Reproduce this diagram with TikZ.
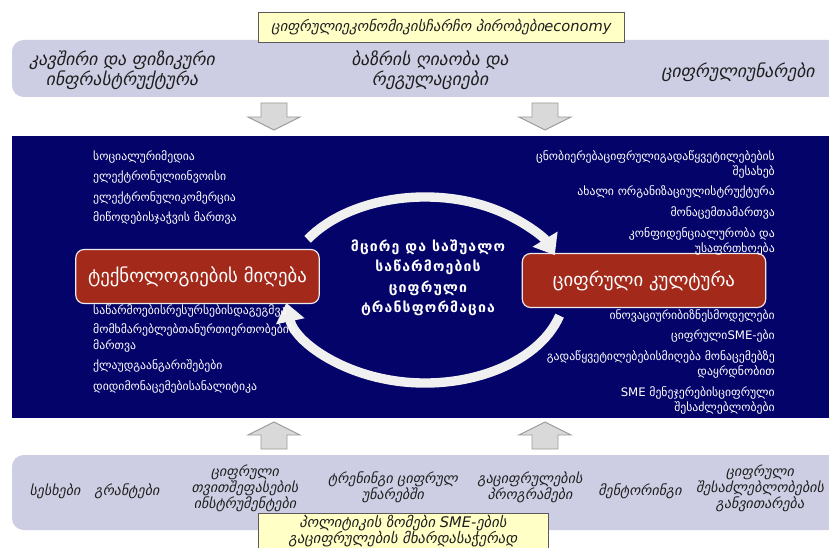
\documentclass[tikz,border=0pt]{standalone}
\usepackage{fontspec}
\setmainfont{DejaVu Sans}
\usepackage{tikz}
\usetikzlibrary{arrows.meta,positioning,calc}
\usepackage{xcolor}
\definecolor{navyfield}{HTML}{03036A}
\definecolor{bandlilac}{HTML}{CDCEE3}
\definecolor{bannercream}{HTML}{FFFFC6}
\definecolor{keyred}{HTML}{A3291B}
\definecolor{arrowgrey}{HTML}{D9D9D9}
\definecolor{arrowedge}{HTML}{9C9C9C}
\definecolor{inkdark}{HTML}{1E1E1E}

\begin{document}
\begin{tikzpicture}[
  x=0.03cm, y=0.03cm,
  >=Stealth,
  banner/.style={
    draw=black!65,
    fill=bannercream,
    line width=0.7pt,
    inner sep=1pt,
    align=center,
    text=inkdark,
    font=\itshape\fontsize{12.5}{14}\selectfont
  },
  bandtext/.style={
    align=center,
    text=inkdark,
    font=\itshape\fontsize{12}{13.5}\selectfont
  },
  listtext/.style={
    text=white,
    inner sep=0pt,
    font=\fontsize{10}{13}\selectfont
  },
  keybox/.style={
    fill=keyred,
    draw=white!85!gray,
    line width=1pt,
    rounded corners=7pt,
    minimum width=7.3cm,
    minimum height=1.62cm,
    text=white,
    font=\fontsize{16}{18}\selectfont
  },
  blockarrow/.style={
    fill=arrowgrey,
    draw=arrowedge,
    line width=0.8pt
  },
  cyclearrow/.style={
    line width=8pt,
    white!88!gray,
    -{Triangle[width=24pt,length=16pt]}
  }
]
  \clip (0,0) rectangle (829,547);
  \fill[white] (0,0) rectangle (829,547);

  % ---------------------------------------------------------------------------
  % BANDS AND FIELD
  % ---------------------------------------------------------------------------
  \fill[bandlilac, rounded corners=10pt] (12,450) rectangle (860,507);
  \fill[bandlilac, rounded corners=10pt] (12,17) rectangle (860,92);
  \fill[navyfield] (12,129) rectangle (829,411);

  % Block arrows
  \draw[blockarrow] (274,417) -- ++(-26,13) -- ++(13,0) -- ++(0,14) -- ++(26,0) -- ++(0,-14) -- ++(13,0) -- cycle;
  \draw[blockarrow] (545,417) -- ++(-26,13) -- ++(13,0) -- ++(0,14) -- ++(26,0) -- ++(0,-14) -- ++(13,0) -- cycle;
  \draw[blockarrow] (274,125) -- ++(-26,-13) -- ++(13,0) -- ++(0,-14) -- ++(26,0) -- ++(0,14) -- ++(13,0) -- cycle;
  \draw[blockarrow] (545,125) -- ++(-26,-13) -- ++(13,0) -- ++(0,-14) -- ++(26,0) -- ++(0,14) -- ++(13,0) -- cycle;

  % ---------------------------------------------------------------------------
  % TOP BAND
  % ---------------------------------------------------------------------------
  \node[banner, minimum width=11.0cm, minimum height=0.9cm] (frame) at (441.5,520)
    {ციფრულიეკონომიკისჩარჩო პირობებიeconomy};

  \node[bandtext, font=\itshape\fontsize{15}{17}\selectfont] (connect) at (122,477) {კავშირი და ფიზიკური\\ინფრასტრუქტურა};
  \node[bandtext, font=\itshape\fontsize{15}{17}\selectfont] (market) at (430,477) {ბაზრის ღიაობა და\\რეგულაციები};
  \node[bandtext, font=\itshape\fontsize{15}{17}\selectfont] (skills) at (738,475) {ციფრულიუნარები};

  % ---------------------------------------------------------------------------
  % CENTRAL CYCLE
  % ---------------------------------------------------------------------------
  \coordinate (hub) at (425,257);

  \node[keybox] (adopt) at (197.5,270.5) {ტექნოლოგიების მიღება};
  \node[keybox] (culture) at (644,266.5) {ციფრული კულტურა};

  \draw[cyclearrow] (hub) ++(147:140 and 93) arc[start angle=147, end angle=22, x radius=140, y radius=93];
  \draw[cyclearrow] (hub) ++(-16:140 and 93) arc[start angle=-16, end angle=-172, x radius=140, y radius=93];

  \node[text=white, align=center, font=\bfseries\fontsize{12}{17.5}\selectfont\addfontfeature{LetterSpace=8}] (core) at (428,269)
    {მცირე და საშუალო\\საწარმოების\\ციფრული\\ტრანსფორმაცია};

  % ---------------------------------------------------------------------------
  % LISTS
  % ---------------------------------------------------------------------------
  \node[listtext, align=left, anchor=north west] (techtop) at (93,397) {
    სოციალურიმედია\\[4.6pt]
    ელექტრონულიინვოისი\\[4.6pt]
    ელექტრონულიკომერცია\\[4.6pt]
    მიწოდებისჯაჭვის მართვა
  };
  \node[listtext, align=left, anchor=north west] (techlow) at (93,243) {
    საწარმოებისრესურსებისდაგეგმვა\\[4pt]
    მომხმარებლებთანურთიერთობების\\
    მართვა\\[4.6pt]
    ქლაუდგაანგარიშებები\\[4.6pt]
    დიდიმონაცემებისანალიტიკა
  };
  \node[listtext, align=right, anchor=north east] (culttop) at (775,397) {
    ცნობიერებაციფრულიგადაწყვეტილებების\\
    შესახებ\\[4.6pt]
    ახალი ორგანიზაციულისტრუქტურა\\[4.6pt]
    მონაცემთამართვა\\[4.6pt]
    კონფიდენციალურობა და\\
    უსაფრთხოება
  };
  \node[listtext, align=right, anchor=north east] (cultlow) at (775,238) {
    ინოვაციურიბიზნესმოდელები\\[4.6pt]
    ციფრულიSME-ები\\[4.6pt]
    გადაწყვეტილებებისმიღება მონაცემებზე\\
    დაყრდნობით\\[4.6pt]
    SME მენეჯერებისციფრული\\
    შესაძლებლობები
  };

  % ---------------------------------------------------------------------------
  % BOTTOM BAND
  % ---------------------------------------------------------------------------
  \node[bandtext] (loans) at (55,56) {სესხები};
  \node[bandtext] (grants) at (127,56) {გრანტები};
  \node[bandtext] (selfcheck) at (245,59) {ციფრული\\თვითშეფასების\\ინსტრუმენტები};
  \node[bandtext] (training) at (393,60) {ტრენინგი ციფრულ\\უნარებში};
  \node[bandtext] (programs) at (530,60) {გაციფრულების\\პროგრამები};
  \node[bandtext] (mentor) at (640,56) {მენტორინგი};
  \node[bandtext] (growth) at (760,59) {ციფრული\\შესაძლებლობების\\განვითარება};

  \node[banner, minimum width=8.7cm, minimum height=1.0cm] (policy) at (403,16)
    {პოლიტიკის ზომები SME-ების\\გაციფრულების მხარდასაჭერად};

\end{tikzpicture}
\end{document}
